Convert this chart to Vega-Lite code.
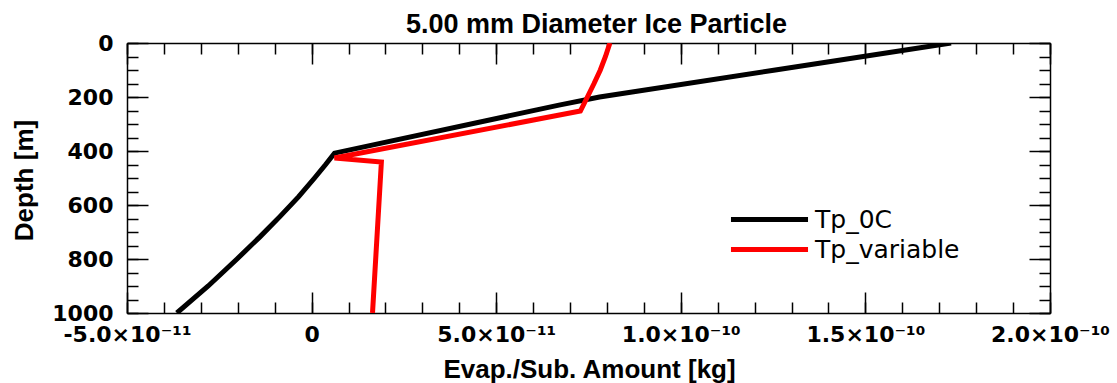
{
  "$schema": "https://vega.github.io/schema/vega-lite/v6.json",
  "width": 923,
  "height": 270,
  "autosize": {"type": "none"},
  "padding": {"left": 127, "top": 43, "right": 67, "bottom": 70},
  "background": "white",
  "config": {
    "view": {"stroke": null},
    "axis": {
      "grid": false,
      "domainColor": "black",
      "domainWidth": 1.5,
      "tickColor": "black",
      "tickWidth": 1.5,
      "labelFlush": false,
      "labelOverlap": false,
      "labelBound": false,
      "labelColor": "black",
      "labelFont": "DejaVu Sans",
      "labelFontWeight": "bold",
      "labelFontSize": 22,
      "titleColor": "black",
      "titleFont": "Liberation Sans",
      "titleFontWeight": "bold",
      "titleFontSize": 26
    }
  },
  "title": {
    "text": "5.00 mm Diameter Ice Particle",
    "font": "Liberation Sans",
    "fontSize": 27,
    "fontWeight": "bold",
    "color": "black",
    "anchor": "middle",
    "frame": "group",
    "baseline": "alphabetic",
    "offset": -28,
    "dx": 8
  },
  "data": {
    "values": [
      {"series": "Tp_0C", "depth": 0, "amount": 1.732e-10},
      {"series": "Tp_0C", "depth": 100, "amount": 1.256e-10},
      {"series": "Tp_0C", "depth": 200, "amount": 7.8e-11},
      {"series": "Tp_0C", "depth": 230, "amount": 6.7e-11},
      {"series": "Tp_0C", "depth": 408, "amount": 6.2e-12},
      {"series": "Tp_0C", "depth": 450, "amount": 3.8e-12},
      {"series": "Tp_0C", "depth": 500, "amount": 8e-13},
      {"series": "Tp_0C", "depth": 569, "amount": -3.5e-12},
      {"series": "Tp_0C", "depth": 643, "amount": -8.6e-12},
      {"series": "Tp_0C", "depth": 718, "amount": -1.4e-11},
      {"series": "Tp_0C", "depth": 800, "amount": -2.02e-11},
      {"series": "Tp_0C", "depth": 900, "amount": -2.8e-11},
      {"series": "Tp_0C", "depth": 1000, "amount": -3.65e-11},
      {"series": "Tp_variable", "depth": 0, "amount": 8.08e-11},
      {"series": "Tp_variable", "depth": 50, "amount": 7.96e-11},
      {"series": "Tp_variable", "depth": 100, "amount": 7.82e-11},
      {"series": "Tp_variable", "depth": 150, "amount": 7.65e-11},
      {"series": "Tp_variable", "depth": 200, "amount": 7.47e-11},
      {"series": "Tp_variable", "depth": 252, "amount": 7.28e-11},
      {"series": "Tp_variable", "depth": 426, "amount": 6.2e-12},
      {"series": "Tp_variable", "depth": 441, "amount": 1.89e-11},
      {"series": "Tp_variable", "depth": 1000, "amount": 1.65e-11}
    ]
  },
  "layer": [
    {
      "mark": {"type": "line", "strokeWidth": 5, "clip": true},
      "encoding": {
        "x": {
          "field": "amount",
          "type": "quantitative",
          "scale": {"domain": [-5e-11, 2e-10], "nice": false, "zero": false},
          "axis": {
            "orient": "bottom",
            "values": [-5e-11, 0, 5e-11, 1e-10, 1.5e-10, 2e-10],
            "tickSize": -21,
            "labelPadding": 32,
            "labelExpr": "datum.value < -1e-11 ? '-5.0×10⁻¹¹' : datum.value < 1e-11 ? '0' : datum.value < 7e-11 ? '5.0×10⁻¹¹' : datum.value < 1.2e-10 ? '1.0×10⁻¹⁰' : datum.value < 1.7e-10 ? '1.5×10⁻¹⁰' : '2.0×10⁻¹⁰'",
            "title": "Evap./Sub. Amount [kg]",
            "titleX": 462,
            "titleY": 64,
            "titleAlign": "center",
            "titleBaseline": "alphabetic"
          }
        },
        "y": {
          "field": "depth",
          "type": "quantitative",
          "scale": {"domain": [0, 1000], "reverse": true, "nice": false, "zero": false},
          "axis": {
            "orient": "left",
            "values": [0, 200, 400, 600, 800, 1000],
            "format": "d",
            "tickSize": -21,
            "labelPadding": 35,
            "title": "Depth [m]",
            "titleX": -95,
            "titleY": 137,
            "titleAngle": -90,
            "titleAlign": "center",
            "titleBaseline": "alphabetic"
          }
        },
        "color": {
          "field": "series",
          "type": "nominal",
          "scale": {"domain": ["Tp_0C", "Tp_variable"], "range": ["#000000", "#ff0000"]},
          "legend": {
            "orient": "none",
            "legendX": 628,
            "legendY": 162,
            "title": null,
            "padding": 0,
            "rowPadding": 2,
            "symbolType": "M-3.21,0H3.21",
            "symbolSize": 576,
            "symbolStrokeWidth": 5,
            "labelFont": "DejaVu Sans",
            "labelFontSize": 25,
            "labelColor": "black",
            "labelOffset": 31,
            "labelBaseline": "middle"
          }
        },
        "order": {"field": "depth", "type": "quantitative"}
      }
    },
    {
      "mark": {"type": "line", "opacity": 0},
      "encoding": {
        "x": {
          "field": "amount",
          "type": "quantitative",
          "axis": {
            "orient": "bottom",
            "values": [-5e-11, -4e-11, -3e-11, -2e-11, -1e-11, 0, 1e-11, 2e-11, 3e-11, 4e-11, 5e-11, 6e-11, 7e-11, 8e-11, 9e-11, 1e-10, 1.1e-10, 1.2e-10, 1.3e-10, 1.4e-10, 1.5e-10, 1.6e-10, 1.7e-10, 1.8e-10, 1.9e-10, 2e-10],
            "tickSize": -11,
            "labels": false,
            "domain": false,
            "title": null
          }
        },
        "y": {
          "field": "depth",
          "type": "quantitative",
          "axis": {
            "orient": "left",
            "values": [0, 50, 100, 150, 200, 250, 300, 350, 400, 450, 500, 550, 600, 650, 700, 750, 800, 850, 900, 950, 1000],
            "tickSize": -11,
            "labels": false,
            "domain": false,
            "title": null
          }
        },
        "order": {"field": "depth", "type": "quantitative"}
      }
    },
    {
      "mark": {"type": "line", "opacity": 0},
      "encoding": {
        "x": {
          "field": "amount",
          "type": "quantitative",
          "axis": {
            "orient": "top",
            "values": [-5e-11, 0, 5e-11, 1e-10, 1.5e-10, 2e-10],
            "tickSize": -21,
            "labels": false,
            "title": null
          }
        },
        "y": {
          "field": "depth",
          "type": "quantitative",
          "axis": {
            "orient": "right",
            "values": [0, 200, 400, 600, 800, 1000],
            "tickSize": -21,
            "labels": false,
            "title": null
          }
        },
        "order": {"field": "depth", "type": "quantitative"}
      }
    },
    {
      "mark": {"type": "line", "opacity": 0},
      "encoding": {
        "x": {
          "field": "amount",
          "type": "quantitative",
          "axis": {
            "orient": "top",
            "values": [-5e-11, -4e-11, -3e-11, -2e-11, -1e-11, 0, 1e-11, 2e-11, 3e-11, 4e-11, 5e-11, 6e-11, 7e-11, 8e-11, 9e-11, 1e-10, 1.1e-10, 1.2e-10, 1.3e-10, 1.4e-10, 1.5e-10, 1.6e-10, 1.7e-10, 1.8e-10, 1.9e-10, 2e-10],
            "tickSize": -11,
            "labels": false,
            "domain": false,
            "title": null
          }
        },
        "y": {
          "field": "depth",
          "type": "quantitative",
          "axis": {
            "orient": "right",
            "values": [0, 50, 100, 150, 200, 250, 300, 350, 400, 450, 500, 550, 600, 650, 700, 750, 800, 850, 900, 950, 1000],
            "tickSize": -11,
            "labels": false,
            "domain": false,
            "title": null
          }
        },
        "order": {"field": "depth", "type": "quantitative"}
      }
    }
  ],
  "resolve": {"axis": {"x": "independent", "y": "independent"}}
}
